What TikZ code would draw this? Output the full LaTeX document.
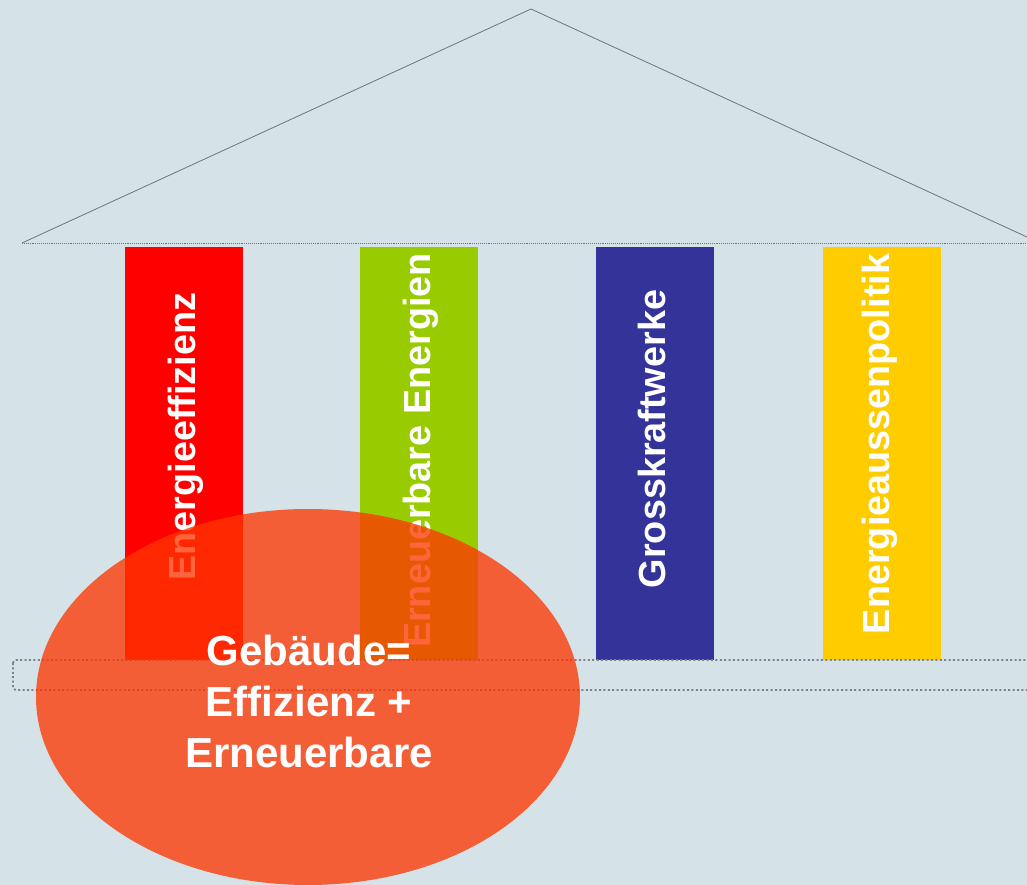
\documentclass[tikz,border=0pt]{standalone}
\usepackage{fontspec}
\setmainfont{Liberation Sans}
\usepackage{tikz}
\usetikzlibrary{positioning,shapes.geometric}
\definecolor{bgblue}{RGB}{213,227,232}
\definecolor{efred}{RGB}{255,0,0}
\definecolor{eegreen}{RGB}{153,204,0}
\definecolor{gkblue}{RGB}{51,51,153}
\definecolor{eayellow}{RGB}{255,204,0}
\definecolor{gbrorange}{RGB}{255,53,0}
\tikzstyle{pillar} = [rectangle, inner sep=0pt, minimum width=118pt, minimum height=413pt]
\tikzstyle{ptext} = [inner sep=0pt, rotate=90, text=white, font=\fontsize{37.8}{45}\selectfont\bfseries]
\tikzstyle{roof} = [draw=gray!90!black, line width=0.8pt]
\tikzstyle{floor} = [draw=gray, line width=1.8pt, dash pattern=on 2pt off 2.4pt, rounded corners=3pt]
\tikzstyle{gbr} = [ellipse, fill=gbrorange, fill opacity=0.76, minimum width=544pt, minimum height=376pt]
\tikzstyle{gbrtext} = [align=center, text=white, font=\fontsize{42}{51}\selectfont\bfseries]

\begin{document}
\begin{tikzpicture}[x=1pt, y=-1pt]
\fill[bgblue] (0,0) rectangle (1027,885);
\useasboundingbox (0,0) rectangle (1027,885);
\clip (0,0) rectangle (1027,885);
% roof
\coordinate (RL) at (22,243);
\coordinate (RT) at (531,9);
\coordinate (RR) at (1040,243);
\draw[roof] (RL) -- (RT) -- (RR);
\draw[roof, line width=0.9pt, densely dotted] (RL) -- (RR);
% pillars
\node(EF)[pillar, fill=efred] at (184,453.5) {};
\node(EE)[pillar, fill=eegreen] at (419,453.5) {};
\node(GK)[pillar, fill=gkblue] at (655,453.5) {};
\node(EA)[pillar, fill=eayellow] at (882,453.5) {};
\node(EFt)[ptext] at (185.5,436.5) {Energieeffizienz};
\node(EEt)[ptext] at (421,450.5) {Erneuerbare Energien};
\node(GKt)[ptext] at (652,439) {Grosskraftwerke};
\node(EAt)[ptext] at (880,444) {Energieaussenpolitik};
% floor
\draw[floor] (13,660) rectangle (1045,690);
% building
\node(G)[gbr] at (308,697) {};
\node(Gt)[gbrtext] at (309,701) {Gebäude=\\Effizienz +\\Erneuerbare};
\end{tikzpicture}
\end{document}
